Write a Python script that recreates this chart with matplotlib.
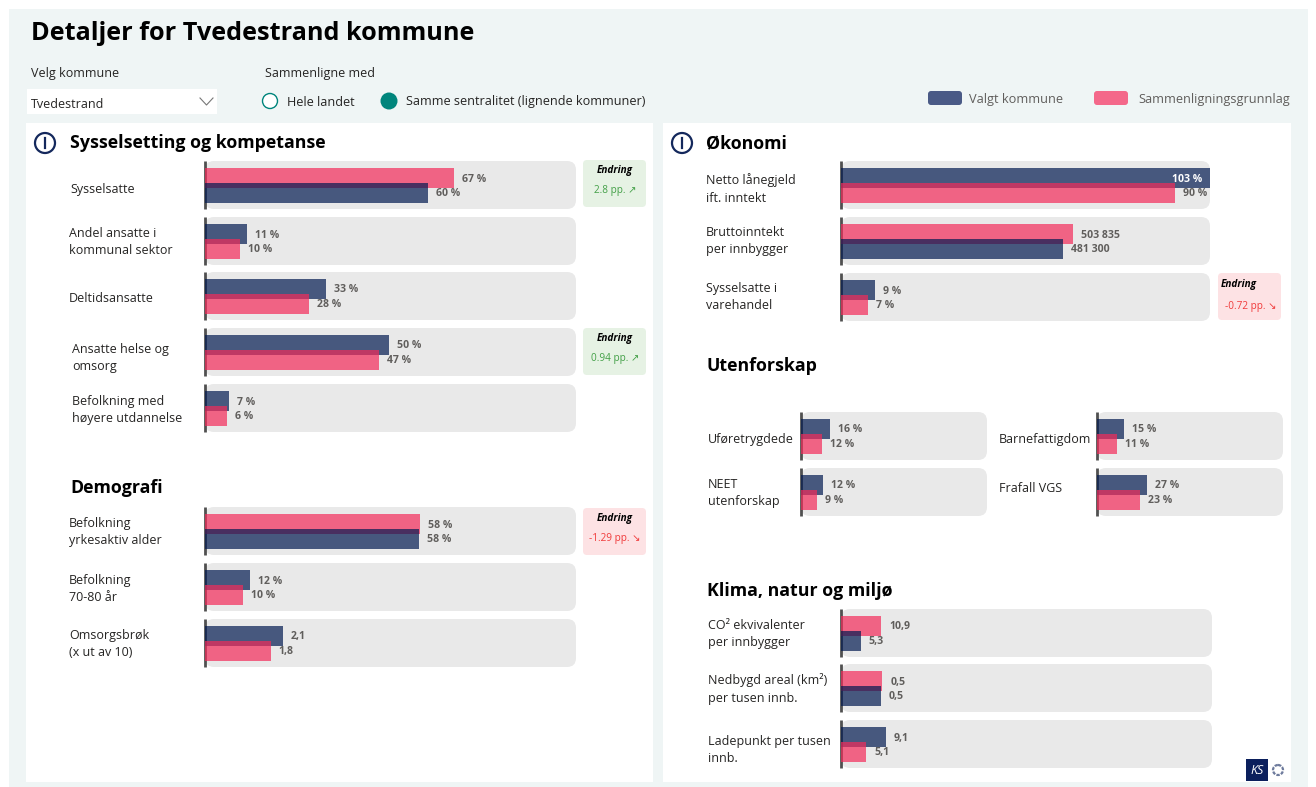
import matplotlib
matplotlib.use("Agg")
import matplotlib.pyplot as plt
from matplotlib.patches import FancyBboxPatch, Circle, Rectangle

plt.rcParams['font.family'] = ['Open Sans', 'DejaVu Sans']

# Sysselsetting og kompetanse
syss_names = ["Sysselsatte", "Andel ansatte i\nkommunal sektor", "Deltidsansatte",
              "Ansatte helse og\nomsorg", "Befolkning med\nhøyere utdannelse"]
syss_valgt = [60, 11.3, 32.7, 49.6, 6.5]
syss_sammen = [67, 9.5, 28, 46.9, 5.9]
syss_valgt_txt = ["60 %", "11 %", "33 %", "50 %", "7 %"]
syss_sammen_txt = ["67 %", "10 %", "28 %", "47 %", "6 %"]

# Demografi
demo_names = ["Befolkning\nyrkesaktiv alder", "Befolkning\n70-80 år", "Omsorgsbrøk\n(x ut av 10)"]
demo_valgt = [57.7, 12.1, 2.1]
demo_sammen = [58, 10.2, 1.77]
demo_valgt_txt = ["58 %", "12 %", "2,1"]
demo_sammen_txt = ["58 %", "10 %", "1,8"]

# Økonomi
oko_names = ["Netto lånegjeld\nift. inntekt", "Bruttoinntekt\nper innbygger", "Sysselsatte i\nvarehandel"]
oko_valgt = [103, 481300, 9.2]
oko_sammen = [90.5, 503835, 7.3]
oko_valgt_txt = ["103 %", "481 300", "9 %"]
oko_sammen_txt = ["90 %", "503 835", "7 %"]

# Utenforskap
uten_names = ["Uføretrygdede", "Barnefattigdom", "NEET\nutenforskap", "Frafall VGS"]
uten_valgt = [15.6, 14.5, 11.8, 26.9]
uten_sammen = [11.5, 10.8, 8.6, 23]
uten_valgt_txt = ["16 %", "15 %", "12 %", "27 %"]
uten_sammen_txt = ["12 %", "11 %", "9 %", "23 %"]

# Klima, natur og miljø
klima_names = ["CO² ekvivalenter\nper innbygger", "Nedbygd areal (km²)\nper tusen innb.", "Ladepunkt per tusen\ninnb."]
klima_valgt = [5.3, 0.48, 9.1]
klima_sammen = [10.9, 0.5, 5.1]
klima_valgt_txt = ["5,3", "0,5", "9,1"]
klima_sammen_txt = ["10,9", "0,5", "5,1"]

W, H = 1316, 787
NAVY = "#021a51"
PINK = "#f32b59"
GREY_TXT = "#605e5c"
DARK_TXT = "#252423"
TEAL = "#00857c"

fig = plt.figure(figsize=(W / 100, H / 100), dpi=100, facecolor="white")
bg = fig.add_axes([0, 0, 1, 1], zorder=0)
bg.set_xlim(0, W)
bg.set_ylim(H, 0)
bg.axis("off")


def box(x0, y0, x1, y1, color, r=0):
    if r == 0:
        bg.add_patch(Rectangle((x0, y0), x1 - x0, y1 - y0, fc=color, ec="none"))
    else:
        bg.add_patch(FancyBboxPatch((x0, y0), x1 - x0, y1 - y0, boxstyle=f"round,pad=0,rounding_size={r}",
                                    fc=color, ec="none"))


def head(x, y, s):
    bg.text(x, y, s, fontsize=12.8, fontweight="bold", color="black", va="center")


def info(x, y):
    bg.add_patch(Circle((x, y), 10, fc="white", ec="#14285c", lw=1.6))
    bg.plot([x, x], [y - 5, y + 5], color="#14285c", lw=1.6)


def row(x0, x1, y0, xmax, name, valgt, sammen, valgt_txt, sammen_txt, lx, ly, h=48):
    box(x0, y0, x1, y0 + h, "#e9e9e9", r=9)
    bg.text(lx, ly, name, fontsize=9, color=DARK_TXT, va="center", linespacing=1.42)
    ax = fig.add_axes([x0 / W, 1 - (y0 + h) / H, (x1 - x0) / W, h / H], zorder=2)
    ax.patch.set_alpha(0)
    ax.axis("off")
    ax.set_xlim(0, xmax)
    ax.set_ylim(h, 0)
    ax.axvline(0, color="#505050", lw=2, clip_on=False, zorder=1, solid_capstyle="butt")
    # the larger value sits on top, the lower bar is painted over it
    if valgt > sammen:
        series = [(valgt, NAVY, valgt_txt), (sammen, PINK, sammen_txt)]
    else:
        series = [(sammen, PINK, sammen_txt), (valgt, NAVY, valgt_txt)]
    for (v, c, t), yc, yt in zip(series, [17, 32], [18, 32.5]):
        ax.barh(yc, v, height=20, color=c, alpha=0.7, zorder=2)
        if v > xmax:
            ax.annotate(t, (xmax, yt), xytext=(-8, 0), textcoords="offset pixels", ha="right", va="center",
                        fontsize=7.6, fontweight="bold", color="white", zorder=3)
        else:
            ax.annotate(t, (v, yt), xytext=(8, 0), textcoords="offset pixels", ha="left", va="center",
                        fontsize=7.6, fontweight="bold", color=GREY_TXT, zorder=3)


def endring(x0, y0, s, up, ex=None, ey=None, sy=None, sx=None):
    box(x0, y0, x0 + 63, y0 + 47, "#e6f2e4" if up else "#fde2e4", r=4)
    bg.text(x0 + 32 if ex is None else ex, y0 + 11 if ey is None else ey, "Endring", fontsize=7.2,
            fontweight="bold", fontstyle="italic", color="black", ha="center", va="center")
    bg.text(x0 + 32 if sx is None else sx, y0 + 30 if sy is None else sy, s, fontsize=7.2,
            color="#43a047" if up else "#f03a3a", ha="center", va="center")


# page
box(9, 9, 1308, 787, "#eff5f5")
box(26, 123, 653, 782, "white")
box(663, 123, 1291, 782, "white")

bg.text(31, 33.5, "Detaljer for Tvedestrand kommune", fontsize=18.2, fontweight="bold", color="black", va="center")
bg.text(31, 73.5, "Velg kommune", fontsize=9, color=DARK_TXT, va="center")
box(27, 89, 217, 114, "white")
bg.text(31, 104, "Tvedestrand", fontsize=9, color=DARK_TXT, va="center")
bg.plot([200, 206.5, 213], [98, 105, 98], color="#777777", lw=0.8)
bg.text(265, 73.5, "Sammenligne med", fontsize=9, color=DARK_TXT, va="center")
bg.add_patch(Circle((270, 101), 7.5, fc="white", ec=TEAL, lw=1.0))
bg.text(287, 102, "Hele landet", fontsize=9.1, color=DARK_TXT, va="center")
bg.add_patch(Circle((389, 101), 8.5, fc=TEAL, ec="none"))
bg.text(406, 102, "Samme sentralitet (lignende kommuner)", fontsize=9.05, color=DARK_TXT, va="center")

box(928, 91, 962, 105, "#4a5a86", r=3)
bg.text(969, 99, "Valgt kommune", fontsize=9.15, color=GREY_TXT, va="center")
box(1094, 91, 1128, 105, "#f4688a", r=3)
bg.text(1138, 99, "Sammenligningsgrunnlag", fontsize=9.15, color=GREY_TXT, va="center")

# left panel
info(45, 143)
head(70, 143, "Sysselsetting og kompetanse")
syss_y = [161, 217, 272, 328, 384]
syss_lx = [70, 69, 69, 72, 72]
syss_ly = [189, 242, 298, 358, 410]
for i in range(5):
    row(205, 576, syss_y[i], 100, syss_names[i], syss_valgt[i], syss_sammen[i],
        syss_valgt_txt[i], syss_sammen_txt[i], syss_lx[i], syss_ly[i])

head(70, 488, "Demografi")
demo_y = [507, 563, 619]
demo_x = [100, 100, 10]
demo_ly = [532, 589, 644]
for i in range(3):
    row(205, 576, demo_y[i], demo_x[i], demo_names[i], demo_valgt[i], demo_sammen[i],
        demo_valgt_txt[i], demo_sammen_txt[i], 69, demo_ly[i])

endring(583, 160, "2.8 pp. ↗", True)
endring(583, 328, "0.94 pp. ↗", True)
endring(583, 508, "-1.29 pp. ↘", False)

# right panel
info(682, 143)
head(706, 143, "Økonomi")
oko_y = [161, 217, 273]
oko_x = [100, 801000, 100]
oko_ly = [189, 241, 297]
for i in range(3):
    row(841, 1210, oko_y[i], oko_x[i], oko_names[i], oko_valgt[i], oko_sammen[i],
        oko_valgt_txt[i], oko_sammen_txt[i], 706, oko_ly[i])
endring(1218, 273, "-0.72 pp. ↘", False, ex=1239, sx=1251, sy=306)

head(707, 366, "Utenforskap")
uten_x = [801, 1097, 801, 1097]
uten_y = [412, 412, 468, 468]
uten_lx = [708, 999, 708, 999]
uten_ly = [440, 440, 493, 489]
for i in range(4):
    row(uten_x[i], uten_x[i] + 186, uten_y[i], 100, uten_names[i], uten_valgt[i], uten_sammen[i],
        uten_valgt_txt[i], uten_sammen_txt[i], uten_lx[i], uten_ly[i])

head(707, 591, "Klima, natur og miljø")
klima_y = [609, 664, 720]
klima_x = [100, 4.5, 75]
klima_ly = [634, 689, 750]
for i in range(3):
    row(841, 1212, klima_y[i], klima_x[i], klima_names[i], klima_valgt[i], klima_sammen[i],
        klima_valgt_txt[i], klima_sammen_txt[i], 708, klima_ly[i])

# logo
box(1246, 759, 1268, 781, "#0b1f5c")
box(1268, 759, 1290, 781, "white")
bg.text(1257, 770, "KS", fontsize=9, fontstyle="italic", color="white", ha="center", va="center")
bg.add_patch(Circle((1278, 770), 5, fc="white", ec="#6d7a9c", lw=1.6, ls=(0, (1.5, 0.6))))

fig.savefig("out.png", dpi=100, facecolor="white")
